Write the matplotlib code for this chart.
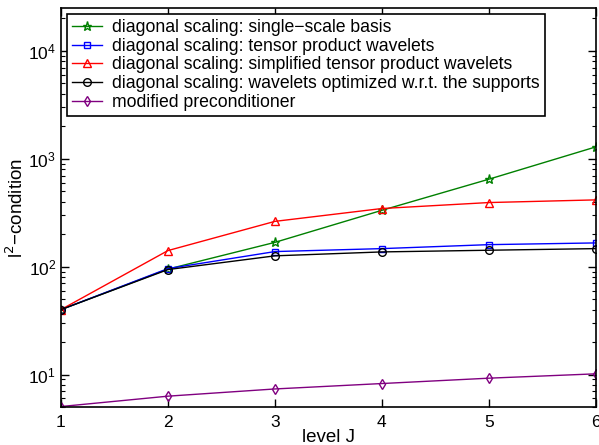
import numpy as np
import matplotlib
matplotlib.use("Agg")
from matplotlib import pyplot as plt

plt.rcParams["font.family"] = ["Liberation Sans", "DejaVu Sans"]

levels = [1, 2, 3, 4, 5, 6]

single_scale = [40, 95, 168, 333, 647, 1290]
tensor = [40, 96, 138, 147, 160, 166]
simplified = [40, 141, 263, 346, 393, 416]
optimized = [40, 94, 126, 137, 142, 147]
modified = [5.05, 6.3, 7.35, 8.25, 9.25, 10.15]

labels = [
    "diagonal scaling: single\u2212scale basis",
    "diagonal scaling: tensor product wavelets",
    "diagonal scaling: simplified tensor product wavelets",
    "diagonal scaling: wavelets optimized w.r.t. the supports",
    "modified preconditioner",
]


def main():
    fig = plt.figure(figsize=(5.99, 4.45), dpi=100)
    ax = fig.add_axes([0.1018, 0.0854, 0.893, 0.8966])

    series = [single_scale, tensor, simplified, optimized, modified]
    styles = [
        ("green", "*", 6.5),
        ("blue", "s", 5),
        ("red", "^", 6),
        ("black", "o", 5.5),
        ("purple", "d", 5.5),
    ]
    for vals, (col, mk, ms), lab in zip(series, styles, labels):
        ax.plot(levels, vals, color=col, marker=mk, markersize=ms,
                markerfacecolor="none", markeredgecolor=col,
                linewidth=1, label=lab)

    ax.set_yscale("log")
    ax.set_xlim(1, 6)
    ax.set_ylim(5, 2.5e4)
    ax.set_xticks(levels)

    ax.tick_params(which="both", direction="in", top=True, right=True,
                   labelsize=12.5)
    ax.tick_params(which="major", length=6, width=1)
    ax.tick_params(which="minor", length=3, width=0.8)
    ax.tick_params(axis="x", pad=6)

    for sp in ax.spines.values():
        sp.set_linewidth(1.2)

    ax.set_xlabel("level J", fontsize=13.5, labelpad=-1)
    ax.set_ylabel("l$^2$\u2212condition", fontsize=13.5, labelpad=1)

    leg = ax.legend(loc="upper left", fontsize=12.7, handlelength=1.7,
                    labelspacing=0.1, borderaxespad=0.35, fancybox=False,
                    framealpha=1, borderpad=0.27, handletextpad=0.6)
    leg.get_frame().set_edgecolor("black")
    leg.get_frame().set_linewidth(1.2)

    fig.savefig("out.png", dpi=100)


if __name__ == "__main__":
    main()
